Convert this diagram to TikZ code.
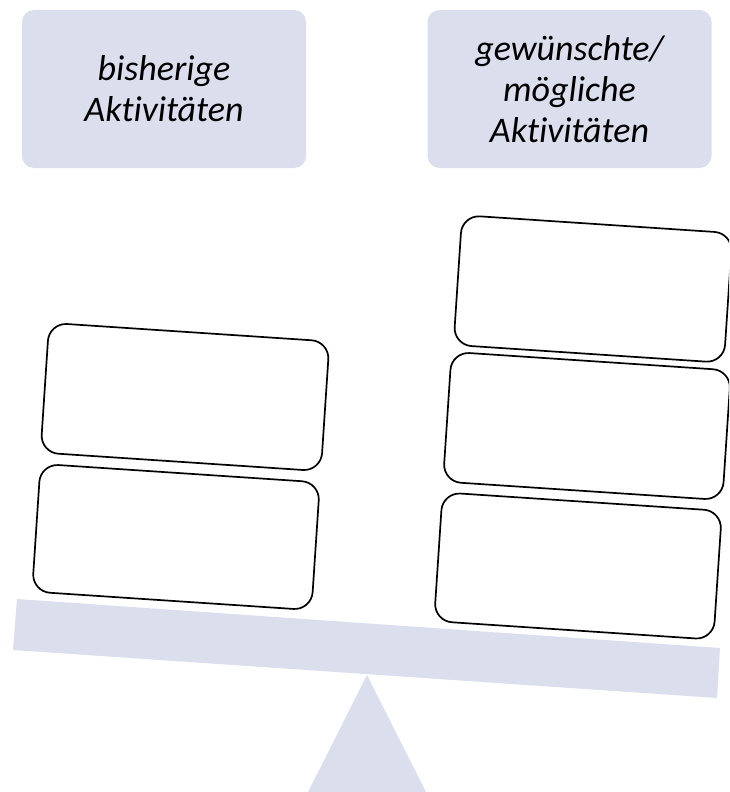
\documentclass[tikz,border=0pt]{standalone}
\usepackage{fontspec}
\setmainfont{Carlito}[Ligatures=NoCommon]
\definecolor{lav}{RGB}{219,222,237}
\begin{document}
\begin{tikzpicture}[x=1pt,y=-1pt,
  header/.style={fill=lav, rounded corners=12pt, minimum width=284pt, minimum height=158pt,
    align=center, inner sep=0pt, font=\fontsize{36}{41}\selectfont\itshape},
  card/.style={draw=black, fill=white, line width=1.7pt, rounded corners=18pt,
    rotate=-3.8, inner sep=0pt}]
\useasboundingbox (0,0) rectangle (729,792);
\clip (0,0) rectangle (729,792);
% headers
\node[header] (hleft) at (164,89) {bisherige\\Aktivitäten};
\node[header] (hright) at (569.5,89) {gewünschte/\\mögliche\\Aktivitäten};
% beam and fulcrum
\fill[lav] (367,675) -- (304,800) -- (430,800) -- cycle;
\fill[lav] (17,599) -- (720,648) -- (717,698) -- (13,650) -- cycle;
% left stack
\node[card, minimum width=281pt, minimum height=130pt] (l1) at (185,397) {};
\node[card, minimum width=280pt, minimum height=128pt] (l2) at (176,537) {};
% right stack
\node[card, minimum width=271pt, minimum height=130pt] (r1) at (593,289) {};
\node[card, minimum width=280pt, minimum height=130pt] (r2) at (587,426) {};
\node[card, minimum width=280pt, minimum height=129pt] (r3) at (578,566) {};
\end{tikzpicture}
\end{document}
